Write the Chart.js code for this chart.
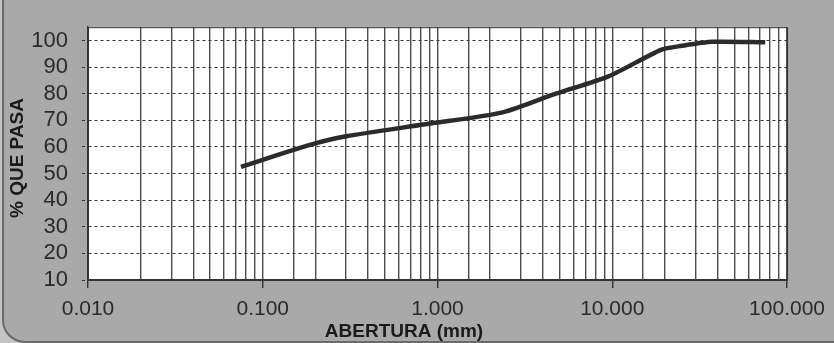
<!DOCTYPE html>
<html>
<head>
<meta charset="utf-8">
<script src="https://cdn.jsdelivr.net/npm/chart.js@4"></script>
<style>
  html, body { margin: 0; padding: 0; background: #a9a9a9; }
  #wrap { width: 834px; height: 343px; }
</style>
</head>
<body>
<div id="wrap"><canvas id="curva"></canvas></div>
<script>
// abertura de tamiz (mm) y porcentaje que pasa
const abertura = [0.075, 0.18, 0.30, 0.85, 2.36, 4.75, 9.5, 19, 25, 37.5, 75];
const quePasa  = [52.5, 60.5, 64.0, 68.5, 73.0, 80.0, 86.5, 96.5, 98.0, 99.5, 99.3];
const yTicks   = [10, 20, 30, 40, 50, 60, 70, 80, 90, 100];

const puntos = abertura.map((a, i) => ({ x: a, y: quePasa[i] }));

function esDecada(v) {
  const l = Math.log10(v);
  return Math.abs(l - Math.round(l)) < 1e-9;
}

// fondo gris y area blanca
const fondo = {
  id: 'fondo',
  beforeDraw(chart) {
    const ctx = chart.ctx, a = chart.chartArea;
    ctx.save();
    ctx.fillStyle = '#c4c4c4';
    ctx.fillRect(0, 0, chart.width, chart.height);
    ctx.fillStyle = '#a9a9a9';
    ctx.strokeStyle = '#6a6a6a';
    ctx.lineWidth = 2;
    ctx.beginPath();
    ctx.roundRect(3, -30, 860, 372, 22);
    ctx.fill();
    ctx.stroke();
    ctx.fillStyle = '#ffffff';
    ctx.fillRect(a.left, a.top, a.right - a.left, a.bottom - a.top);
    ctx.restore();
  },
  afterDraw(chart) {
    const ctx = chart.ctx, a = chart.chartArea;
    ctx.save();
    ctx.strokeStyle = '#333';
    ctx.lineWidth = 1;
    ctx.strokeRect(a.left + 0.5, a.top + 0.5, a.right - a.left, a.bottom - a.top);
    ctx.fillStyle = '#1a1a1a';
    ctx.font = 'bold 19px "Liberation Sans", Arial, sans-serif';
    ctx.textAlign = 'center';
    ctx.textBaseline = 'middle';
    ctx.fillText('ABERTURA (mm)', 404, 332);
    ctx.translate(18, 158);
    ctx.rotate(-Math.PI / 2);
    ctx.fillText('% QUE PASA', 0, 0);
    ctx.restore();
  }
};

new Chart(document.getElementById('curva'), {
  type: 'scatter',
  data: {
    datasets: [{
      data: puntos,
      showLine: true,
      borderColor: '#2b2b2b',
      borderWidth: 4.5,
      pointRadius: 0,
      tension: 0.25,
      fill: false
    }]
  },
  plugins: [fondo],
  options: {
    responsive: true,
    maintainAspectRatio: false,
    animation: false,
    layout: { padding: { top: 12, right: 43, left: 0, bottom: 0 } },
    plugins: {
      legend: { display: false },
      tooltip: { enabled: false }
    },
    scales: {
      x: {
        type: 'logarithmic',
        min: 0.01,
        max: 100,
        afterFit(s) { s.height = 63; },
        border: { color: '#333', width: 1.5 },
        grid: {
          color: '#4d4d4d',
          lineWidth: 1.4,
          tickLength: 8,
          tickColor: ctx => (ctx.tick && esDecada(ctx.tick.value)) ? '#333' : 'rgba(0,0,0,0)'
        },
        ticks: {
          autoSkip: false,
          maxRotation: 0,
          padding: 9,
          color: '#2a2a2a',
          font: { family: 'Arial, "Liberation Sans", sans-serif', size: 21 },
          callback: v => esDecada(v) ? v.toFixed(3) : ''
        }
      },
      y: {
        min: 10,
        max: 105,
        afterFit(s) { s.width = 88; },
        afterBuildTicks(s) { s.ticks = yTicks.map(v => ({ value: v })); },
        border: { color: '#333', width: 1.5, dash: [3, 3] },
        grid: {
          color: '#333',
          lineWidth: 1,
          tickLength: 6,
          tickBorderDash: [3, 3]
        },
        ticks: {
          autoSkip: false,
          padding: 14,
          color: '#2a2a2a',
          font: { family: 'Arial, "Liberation Sans", sans-serif', size: 22 }
        }
      }
    }
  }
});
</script>
</body>
</html>
